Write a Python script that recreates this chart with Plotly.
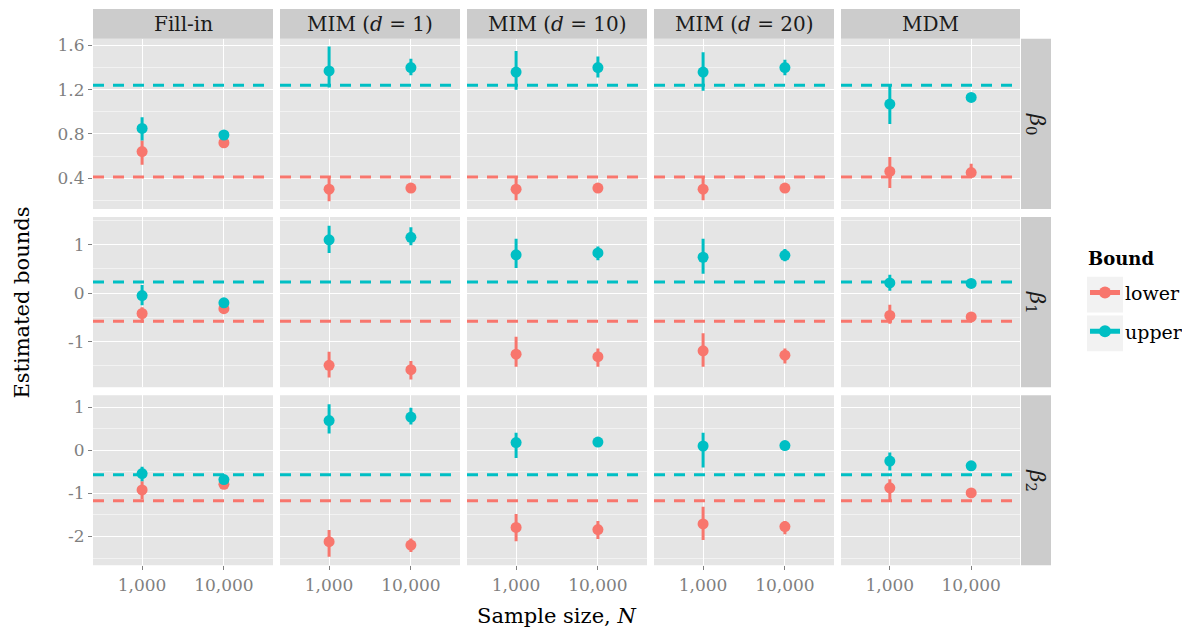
import plotly.graph_objects as go

# ---------------- data ----------------
methods = ["Fill-in", "MIM (<i>d</i> = 1)", "MIM (<i>d</i> = 10)", "MIM (<i>d</i> = 20)", "MDM"]
sizes = ["1,000", "10,000"]
params = ["<i>β</i><sub>0</sub>", "<i>β</i><sub>1</sub>", "<i>β</i><sub>2</sub>"]
bound_names = ["lower", "upper"]

# each list: per method, [N=1,000, N=10,000]
b0_lower_est = [[0.64, 0.72], [0.30, 0.31], [0.30, 0.31], [0.30, 0.31], [0.46, 0.45]]
b0_lower_lo = [[0.52, 0.69], [0.19, 0.29], [0.20, 0.29], [0.20, 0.29], [0.31, 0.41]]
b0_lower_hi = [[0.74, 0.75], [0.41, 0.33], [0.40, 0.33], [0.40, 0.33], [0.59, 0.53]]
b0_upper_est = [[0.85, 0.79], [1.37, 1.40], [1.36, 1.40], [1.36, 1.40], [1.07, 1.13]]
b0_upper_lo = [[0.74, 0.77], [1.22, 1.33], [1.20, 1.31], [1.19, 1.33], [0.89, 1.09]]
b0_upper_hi = [[0.95, 0.81], [1.59, 1.48], [1.55, 1.50], [1.54, 1.47], [1.24, 1.16]]

b1_lower_est = [[-0.42, -0.32], [-1.49, -1.58], [-1.26, -1.31], [-1.19, -1.28], [-0.46, -0.49]]
b1_lower_lo = [[-0.61, -0.36], [-1.74, -1.78], [-1.52, -1.52], [-1.52, -1.45], [-0.63, -0.53]]
b1_lower_hi = [[-0.29, -0.28], [-1.21, -1.40], [-0.90, -1.14], [-0.83, -1.14], [-0.24, -0.45]]
b1_upper_est = [[-0.05, -0.20], [1.10, 1.15], [0.79, 0.83], [0.74, 0.78], [0.21, 0.20]]
b1_upper_lo = [[-0.25, -0.24], [0.83, 0.99], [0.52, 0.68], [0.40, 0.66], [0.05, 0.17]]
b1_upper_hi = [[0.17, -0.16], [1.39, 1.36], [1.12, 0.96], [1.12, 0.91], [0.38, 0.24]]

b2_lower_est = [[-0.92, -0.79], [-2.12, -2.20], [-1.79, -1.84], [-1.71, -1.77], [-0.87, -0.99]]
b2_lower_lo = [[-1.13, -0.84], [-2.47, -2.36], [-2.11, -2.06], [-2.08, -1.95], [-1.17, -1.03]]
b2_lower_hi = [[-0.72, -0.74], [-1.85, -2.05], [-1.48, -1.64], [-1.31, -1.64], [-0.67, -0.95]]
b2_upper_est = [[-0.54, -0.68], [0.69, 0.77], [0.18, 0.19], [0.10, 0.11], [-0.25, -0.36]]
b2_upper_lo = [[-0.72, -0.72], [0.39, 0.60], [-0.18, 0.14], [-0.40, 0.06], [-0.47, -0.40]]
b2_upper_hi = [[-0.38, -0.64], [1.07, 0.99], [0.41, 0.24], [0.41, 0.16], [-0.05, -0.32]]

true_lower = [0.41, -0.58, -1.17]
true_upper = [1.24, 0.23, -0.57]

y_ranges = [[0.12, 1.66], [-1.94, 1.57], [-2.67, 1.28]]
y_tick_vals = [[0.4, 0.8, 1.2, 1.6], [-1, 0, 1], [-2, -1, 0, 1]]
y_tick_text = [["0.4", "0.8", "1.2", "1.6"], ["-1", "0", "1"], ["-2", "-1", "0", "1"]]
y_minor = [0.2, 0.5, 0.5]

# ---------------- style / layout ----------------
OX, OY = 8, 9          # page (body) offset of the plot div
W, H = 1190 - OX, 634 - OY
FONT = "DejaVu Serif"
COL_LOWER = "#F8766D"
COL_UPPER = "#00BFC4"
col_px = [(93, 273), (280, 460), (467, 647), (654, 834), (841, 1020)]
row_px = [(37, 208), (216, 387), (395, 566)]


def px_x(p):
    return (p - OX) / W


def px_y(p):
    return 1 - (p - OY) / H


rows = [
    (b0_lower_est, b0_lower_lo, b0_lower_hi, b0_upper_est, b0_upper_lo, b0_upper_hi),
    (b1_lower_est, b1_lower_lo, b1_lower_hi, b1_upper_est, b1_upper_lo, b1_upper_hi),
    (b2_lower_est, b2_lower_lo, b2_lower_hi, b2_upper_est, b2_upper_lo, b2_upper_hi),
]

fig = go.Figure()
layout = {}
shapes = []
annotations = []

for r in range(3):
    l_est, l_lo, l_hi, u_est, u_lo, u_hi = rows[r]
    for c in range(5):
        idx = r * 5 + c + 1
        sx = "" if idx == 1 else str(idx)
        xa, ya = "x" + sx, "y" + sx
        shapes.append(dict(type="rect", xref="paper", yref="paper",
                           x0=px_x(col_px[c][0]), x1=px_x(col_px[c][1]),
                           y0=px_y(row_px[r][1]), y1=px_y(row_px[r][0]),
                           fillcolor="#E5E5E5", line=dict(width=0), layer="below"))
        layout["xaxis" + sx] = dict(
            domain=[px_x(col_px[c][0]), px_x(col_px[c][1])], anchor=ya,
            type="category", categoryorder="array", categoryarray=sizes,
            range=[-0.6, 1.6], showgrid=True, gridcolor="white", gridwidth=1.4,
            zeroline=False, showline=False,
            showticklabels=(r == 2), ticks="outside" if r == 2 else "",
            ticklen=4, tickcolor="#7F7F7F", tickwidth=1.2,
            tickfont=dict(family=FONT, size=17, color="#7F7F7F"),
            fixedrange=True,
        )
        layout["yaxis" + sx] = dict(
            domain=[px_y(row_px[r][1]), px_y(row_px[r][0])], anchor=xa,
            range=y_ranges[r], tickmode="array",
            tickvals=y_tick_vals[r], ticktext=y_tick_text[r],
            showgrid=True, gridcolor="white", gridwidth=1.4,
            minor=dict(dtick=y_minor[r], tick0=0, showgrid=True,
                       gridcolor="#F2F2F2", gridwidth=0.8),
            zeroline=False, showline=False,
            showticklabels=(c == 0), ticks="outside" if c == 0 else "",
            ticklen=4, tickcolor="#7F7F7F", tickwidth=1.2,
            tickfont=dict(family=FONT, size=17, color="#7F7F7F"),
            fixedrange=True,
        )
        for val, col in ((true_upper[r], COL_UPPER), (true_lower[r], COL_LOWER)):
            shapes.append(dict(type="line", xref=xa + " domain", yref=ya,
                               x0=0, x1=1, y0=val, y1=val,
                               line=dict(color=col, width=3, dash="11px,9px"),
                               layer="above"))
        for name, est, lo, hi, col in ((bound_names[0], l_est, l_lo, l_hi, COL_LOWER),
                                        (bound_names[1], u_est, u_lo, u_hi, COL_UPPER)):
            e = est[c]
            fig.add_trace(go.Scatter(
                x=sizes, y=e, xaxis=xa, yaxis=ya, mode="markers",
                marker=dict(color=col, size=11),
                error_y=dict(type="data", symmetric=False,
                             array=[hi[c][k] - e[k] for k in range(2)],
                             arrayminus=[e[k] - lo[c][k] for k in range(2)],
                             color=col, thickness=3, width=0),
                name=name, showlegend=False, hoverinfo="skip",
            ))

# legend entries (line + point keys)
for name, col in zip(bound_names, (COL_LOWER, COL_UPPER)):
    fig.add_trace(go.Scatter(
        x=[None], y=[None], xaxis="x", yaxis="y", mode="lines+markers",
        line=dict(color=col, width=3), marker=dict(color=col, size=11),
        name=name, legendgroup=name, showlegend=True, hoverinfo="skip",
    ))

# column strips
for c in range(5):
    shapes.append(dict(type="rect", xref="paper", yref="paper",
                       x0=px_x(col_px[c][0]), x1=px_x(col_px[c][1]),
                       y0=px_y(37), y1=px_y(7),
                       fillcolor="#CCCCCC", line=dict(width=0), layer="below"))
    annotations.append(dict(text=methods[c], xref="paper", yref="paper",
                            x=px_x((col_px[c][0] + col_px[c][1]) / 2), y=px_y(22),
                            showarrow=False, xanchor="center", yanchor="middle",
                            font=dict(family=FONT, size=20, color="#1A1A1A")))
# row strips
for r in range(3):
    shapes.append(dict(type="rect", xref="paper", yref="paper",
                       x0=px_x(1021), x1=px_x(1051),
                       y0=px_y(row_px[r][1]), y1=px_y(row_px[r][0]),
                       fillcolor="#CCCCCC", line=dict(width=0), layer="below"))
    annotations.append(dict(text=params[r], xref="paper", yref="paper",
                            x=px_x(1036), y=px_y((row_px[r][0] + row_px[r][1]) / 2),
                            showarrow=False, xanchor="center", yanchor="middle",
                            textangle=90,
                            font=dict(family=FONT, size=21, color="#1A1A1A")))

# axis titles
annotations.append(dict(text="Estimated bounds", xref="paper", yref="paper",
                        x=px_x(22), y=px_y(302), showarrow=False, textangle=-90,
                        xanchor="center", yanchor="middle",
                        font=dict(family=FONT, size=21, color="black")))
annotations.append(dict(text="Sample size, <i>N</i>", xref="paper", yref="paper",
                        x=px_x(556), y=px_y(617), showarrow=False,
                        xanchor="center", yanchor="middle",
                        font=dict(family=FONT, size=21, color="black")))
# legend title
annotations.append(dict(text="<b>Bound</b>", xref="paper", yref="paper",
                        x=px_x(1086), y=px_y(258), showarrow=False,
                        xanchor="left", yanchor="middle",
                        font=dict(family=FONT, size=18, color="black")))

# legend key backgrounds
for k in range(2):
    shapes.append(dict(type="rect", xref="paper", yref="paper",
                       x0=px_x(1087), x1=px_x(1123),
                       y0=px_y(276 + 39 * k + 36), y1=px_y(276 + 39 * k),
                       fillcolor="#F2F2F2", line=dict(width=0), layer="below"))

fig.update_layout(
    width=W, height=H,
    margin=dict(l=0, r=0, t=0, b=0),
    paper_bgcolor="white", plot_bgcolor="rgba(0,0,0,0)",
    shapes=shapes, annotations=annotations,
    showlegend=True,
    legend=dict(x=px_x(1085), y=px_y(273), xanchor="left", yanchor="top",
                font=dict(family=FONT, size=19, color="black"),
                bgcolor="rgba(0,0,0,0)", tracegroupgap=11, traceorder="grouped",
                itemsizing="constant"),
    **layout,
)

fig.write_html("out.html")
